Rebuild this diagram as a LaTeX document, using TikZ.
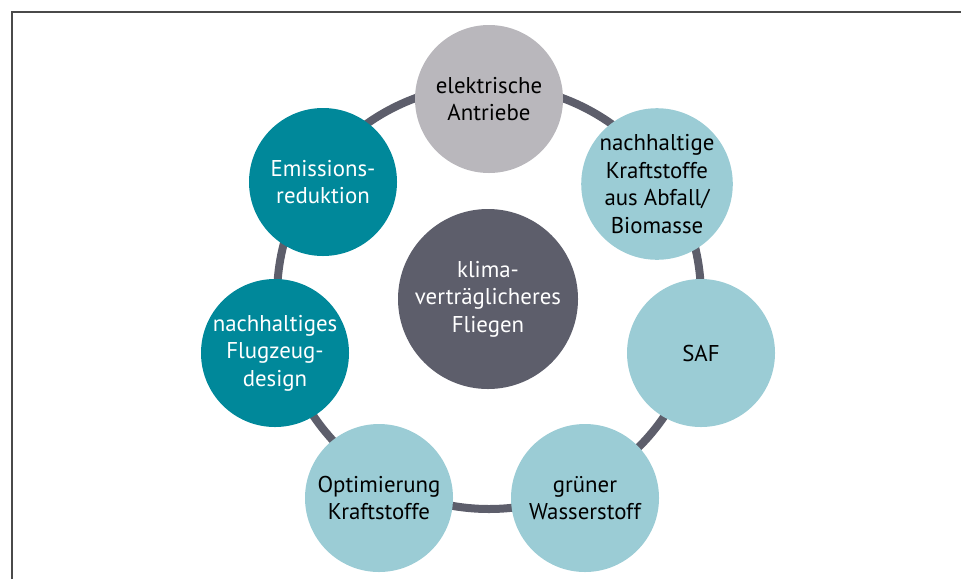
\documentclass[tikz,border=0pt]{standalone}
\usepackage{fontspec}
\setmainfont{PT Sans}
\usepackage{tikz}
\definecolor{petrol}{HTML}{00889A}
\definecolor{eisblau}{HTML}{9BCCD5}
\definecolor{hellgrau}{HTML}{B9B7BC}
\definecolor{schiefer}{HTML}{5D5E6B}
\definecolor{rahmen}{HTML}{4A4A4A}

\begin{document}
\begin{tikzpicture}[x=0.03cm, y=-0.03cm,
  topic/.style={circle, inner sep=0pt, minimum size=4.44cm, align=center, font=\fontsize{19.5}{23.5}\selectfont},
  dark/.style={topic, fill=petrol, text=white},
  light/.style={topic, fill=eisblau, text=black},
  grey/.style={topic, fill=hellgrau, text=black},
  hub/.style={topic, minimum size=5.4cm, fill=schiefer, text=white},
  ring/.style={draw=schiefer, line width=0.24cm}]
  \useasboundingbox (0,0) rectangle (961,579);
  % frame, open at the bottom and right
  \draw[rahmen, line width=0.06cm] (12,579) -- (12,12) -- (961,12);
  % ring behind the topics
  \draw[ring] (489,297) circle[radius=212];
  \node[hub] (fly) at (488,299) {klima-\\verträglicheres\\Fliegen};
  \node[grey] (elek) at (489,99) {elektrische\\Antriebe};
  \node[light] (abfall) at (657,184) {nachhaltige\\Kraftstoffe\\aus Abfall/\\Biomasse};
  \node[light] (saf) at (701,353) {SAF};
  \node[light] (wasser) at (585,498) {grüner\\Wasserstoff};
  \node[light] (optim) at (379,498) {Optimierung\\Kraftstoffe};
  \node[dark] (design) at (275,353) {nachhaltiges\\Flugzeug-\\design};
  \node[dark] (emiss) at (323,182) {Emissions-\\reduktion};
\end{tikzpicture}
\end{document}
